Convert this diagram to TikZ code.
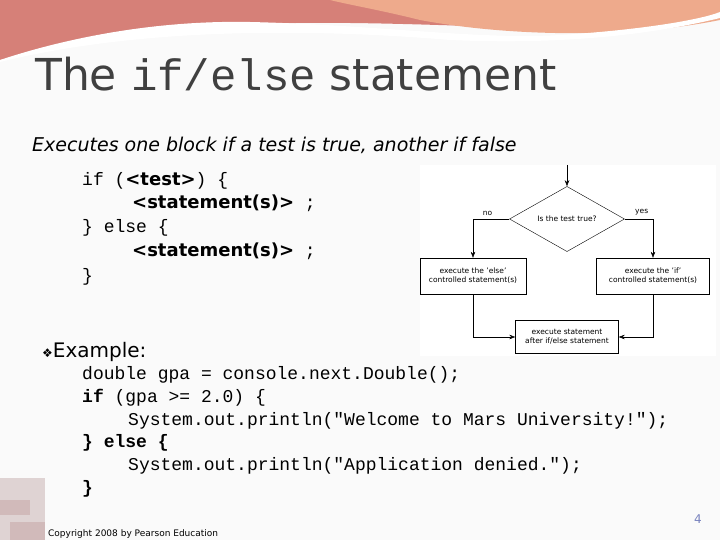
\documentclass[tikz,border=0pt]{standalone}
\usepackage{fontspec}
\setmainfont{DejaVu Sans}
\setsansfont{DejaVu Sans}
\setmonofont{Liberation Mono}
\usetikzlibrary{shapes.geometric,arrows.meta,positioning}
\definecolor{swooshdark}{RGB}{214,128,120}
\definecolor{swooshlight}{RGB}{238,170,140}
\definecolor{titlecolor}{RGB}{64,64,64}
\definecolor{pagecolor}{RGB}{120,130,190}

\begin{document}
\begin{tikzpicture}[x=1pt, y=-1pt,
    txt/.style={anchor=base west, inner sep=0pt},
    code/.style={txt, font=\fontsize{18}{20}\ttfamily},
    flowbox/.style={draw, thin, align=center, font=\fontsize{7.5}{9}\selectfont, inner sep=2pt},
    decision/.style={diamond, draw, thin, minimum width=115pt, minimum height=58pt,
                     font=\fontsize{7.5}{9}\selectfont, inner sep=0pt},
    flow/.style={-{Stealth[length=6pt]}, thin}]
  \useasboundingbox (0,0) rectangle (720,540);
  \fill[gray!4] (0,0) rectangle (720,540);

  % Swoosh at the top
  \fill[swooshdark] (0,0) -- (720,0) -- (720,10) .. controls (600,45) and (430,15) .. (230,25)
      .. controls (110,30) and (40,50) .. (0,60) -- cycle;
  \fill[swooshlight] (330,0) -- (720,0) -- (720,20) .. controls (620,40) and (500,35) .. (420,20)
      .. controls (380,10) and (350,5) .. (330,0) -- cycle;
  \fill[white] (0,60) .. controls (60,40) and (150,20) .. (250,22)
      .. controls (380,25) and (480,40) .. (560,35) .. controls (640,30) and (700,20) .. (720,12)
      -- (720,18) .. controls (650,35) and (560,45) .. (450,40) .. controls (330,30) and (150,25) .. (0,62) -- cycle;

  % Title and text
  \node[txt, font=\fontsize{44}{50}\selectfont, text=titlecolor] (title) at (35,91)
      {The {\ttfamily if/else} statement};
  \node[txt, font=\fontsize{19}{22}\selectfont\itshape] (intro) at (32,152)
      {Executes one block if a test is true, another if false};

  % Syntax template
  \node[code] (s1) at (82,186) {if (\textbf{\sffamily <test>}) \{};
  \node[code] (s2) at (132,209) {\textbf{\sffamily <statement(s)>} ;};
  \node[code] (s3) at (82,233) {\} else \{};
  \node[code] (s4) at (132,256) {\textbf{\sffamily <statement(s)>} ;};
  \node[code] (s5) at (82,281) {\}};

  % Flowchart
  \fill[white] (420,165) rectangle (716,356);
  \coordinate (start) at (567,165);
  \node[decision] (test) at (567,219) {Is the test true?};
  \node[flowbox, minimum width=106pt, minimum height=36pt] (elsebox) at (473,276)
      {execute the 'else'\\controlled statement(s)};
  \node[flowbox, minimum width=113pt, minimum height=36pt] (ifbox) at (653,276)
      {execute the 'if'\\controlled statement(s)};
  \node[flowbox, minimum width=103pt, minimum height=33pt] (after) at (567,337)
      {execute statement\\after if/else statement};
  \draw[flow] (start) -- (test);
  \draw[flow] (test.west) -| node[pos=0.3, above, font=\fontsize{7.5}{9}\selectfont] {no} (elsebox);
  \draw[flow] (test.east) -| node[pos=0.3, above, font=\fontsize{7.5}{9}\selectfont] {yes} (ifbox);
  \draw[flow] (elsebox) |- (after);
  \draw[flow] (ifbox) |- (after);

  % Example
  \node[txt, font=\fontsize{20}{24}\selectfont] (example) at (42,357)
      {{\fontsize{12}{14}\selectfont ❖}Example:};
  \node[code] (e1) at (82,379) {double gpa = console.next.Double();};
  \node[code] (e2) at (82,402) {\textbf{if} (gpa >= 2.0) \{};
  \node[code] (e3) at (128,425) {System.out.println("Welcome to Mars University!");};
  \node[code] (e4) at (82,447) {\textbf{\} else \{}};
  \node[code] (e5) at (128,470) {System.out.println("Application denied.");};
  \node[code] (e6) at (82,493) {\textbf{\}}};

  % Footer
  \fill[red!15!gray!30] (0,478) rectangle (45,540);
  \fill[red!20!gray!45] (0,500) rectangle (30,515);
  \fill[red!20!gray!45] (10,522) rectangle (45,540);
  \node[txt, font=\fontsize{9}{10}\selectfont] (copy) at (48,536) {Copyright 2008 by Pearson Education};
  \node[txt, font=\fontsize{12}{14}\selectfont, text=pagecolor] (page) at (694,523) {4};
\end{tikzpicture}
\end{document}
